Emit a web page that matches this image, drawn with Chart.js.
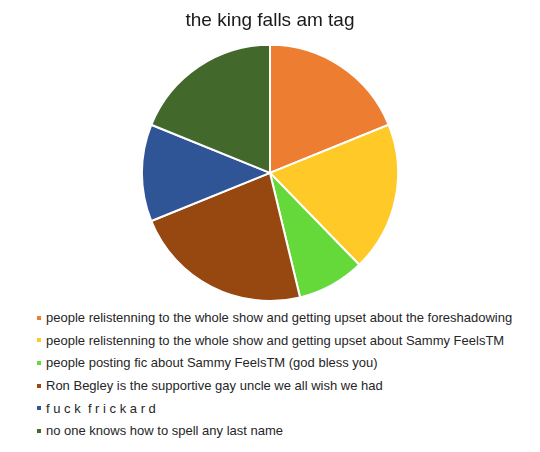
<!DOCTYPE html>
<html>
<head>
<meta charset="utf-8">
<script src="https://cdn.jsdelivr.net/npm/chart.js@4/dist/chart.umd.min.js"></script>
<style>
  html, body { margin: 0; padding: 0; background: #fff; }
  #wrap { position: relative; width: 540px; height: 452px; overflow: hidden; }
  #cbox { position: absolute; left: 0; top: 0; width: 540px; height: 305px; }
  #legend { position: absolute; left: 37px; top: 307px; font-family: "Liberation Sans", Arial, sans-serif; font-size: 13px; color: #262626; }
  .item { height: 22.7px; line-height: 22.7px; white-space: pre; }
  .sw { display: inline-block; width: 4px; height: 4px; margin-right: 5px; vertical-align: middle; position: relative; top: -1px; }
</style>
</head>
<body>
<div id="wrap">
  <div id="cbox"><canvas id="c"></canvas></div>
  <div id="legend"></div>
</div>
<script>
const categories = [
  "people relistenning to the whole show and getting upset about the foreshadowing",
  "people relistenning to the whole show and getting upset about Sammy FeelsTM",
  "people posting fic about Sammy FeelsTM (god bless you)",
  "Ron Begley is the supportive gay uncle we all wish we had",
  "f u c k  f r i c k a r d",
  "no one knows how to spell any last name"
];
const values = [20, 20, 9, 24, 13, 20];
const colors = ["#ED7D31", "#FFCA28", "#66D93A", "#974710", "#2F5597", "#43682B"];
const titleText = "the king falls am tag";

const chart = new Chart(document.getElementById('c'), {
  type: 'pie',
  data: {
    labels: categories,
    datasets: [{
      data: values,
      backgroundColor: colors,
      borderColor: '#ffffff',
      borderWidth: 2
    }]
  },
  options: {
    responsive: true,
    maintainAspectRatio: false,
    animation: false,
    layout: { padding: { top: 0, bottom: 3, left: 0, right: 0 } },
    plugins: {
      legend: { display: false },
      tooltip: { enabled: false },
      title: {
        display: true,
        text: titleText,
        color: '#1a1a1a',
        font: { family: '"Liberation Sans", Arial, sans-serif', size: 19, weight: 'normal' },
        padding: { top: 9, bottom: 12 }
      }
    }
  }
});

const leg = document.getElementById('legend');
chart.options.plugins.legend.labels.generateLabels(chart).forEach(function (it) {
  const row = document.createElement('div');
  row.className = 'item';
  const sw = document.createElement('span');
  sw.className = 'sw';
  sw.style.background = it.fillStyle;
  row.appendChild(sw);
  row.appendChild(document.createTextNode(it.text));
  leg.appendChild(row);
});
</script>
</body>
</html>
